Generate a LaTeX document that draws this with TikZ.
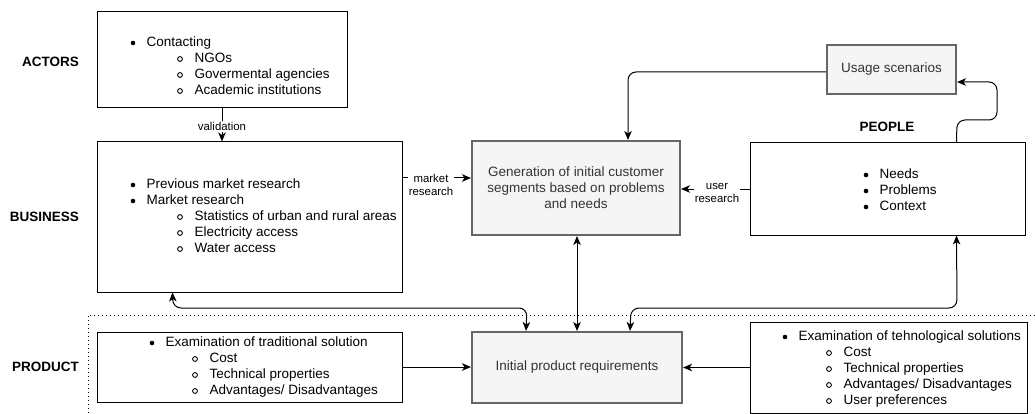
\documentclass[tikz,border=0pt]{standalone}
\usepackage{fontspec}
\setmainfont{Liberation Sans}
\usetikzlibrary{arrows.meta,calc}

\definecolor{boxgray}{HTML}{F5F5F5}
\definecolor{edgegray}{HTML}{666666}
\definecolor{txtgray}{HTML}{333333}

\tikzset{
  listbox/.style={draw=black, line width=1pt, fill=white, inner sep=0pt},
  stagebox/.style={draw=edgegray, line width=2pt, fill=boxgray, inner sep=0pt,
    text=txtgray, align=center, font=\fontsize{13.5}{16}\selectfont},
  lane/.style={inner sep=0pt, font=\bfseries\fontsize{13.5}{16}\selectfont},
  itemtext/.style={anchor=base west, inner sep=0pt, font=\fontsize{13.5}{16}\selectfont},
  tip/.tip={Stealth[length=9pt,width=7.5pt,inset=2.5pt]},
  flow/.style={line width=1pt, -tip, rounded corners=8pt},
  twoway/.style={line width=1pt, tip-tip, rounded corners=8pt},
  elabel/.style={fill=white, inner sep=1pt, align=center,
    font=\fontsize{11.4}{13.5}\selectfont},
  boundary/.style={line width=1pt, dash pattern=on 1pt off 3pt},
}

% first-level item: filled dot, then text (baseline half an x-height below the dot)
\newcommand\lvone[3]{%
  \fill (#1,#2) circle (2.3pt);
  \node[itemtext] at ($(#1,#2)+(13.5,3.5)$) {#3};}
% second-level item: hollow dot, then text
\newcommand\lvtwo[3]{%
  \draw[line width=0.9pt] (#1,#2) circle (2.4pt);
  \node[itemtext] at ($(#1,#2)+(14.5,3.5)$) {#3};}

\begin{document}
\begin{tikzpicture}[x=1pt,y=-1pt]
\useasboundingbox (0,0) rectangle (1035,414);

% product lane boundary
\draw[boundary] (1035,315) -- (88,315) -- (88,414);

% lane labels
\node[lane, anchor=east] (lactors) at (79,62) {ACTORS};
\node[lane, anchor=east] (lbusiness) at (79,217) {BUSINESS};
\node[lane, anchor=east] (lproduct) at (79,367) {PRODUCT};
\node[lane] (lpeople) at (887,127) {PEOPLE};

% boxes
\node[listbox, minimum width=250pt, minimum height=96pt] (actors) at (222,60) {};
\node[listbox, minimum width=305pt, minimum height=150pt] (business) at (249.5,217) {};
\node[stagebox, minimum width=208pt, minimum height=94pt] (gen) at (576,188)
  {Generation of initial customer\\segments based on problems\\and needs};
\node[stagebox, minimum width=129pt, minimum height=49pt] (usage) at (891.5,69.5)
  {Usage scenarios};
\node[listbox, minimum width=275pt, minimum height=92pt] (people) at (887.5,189) {};
\node[listbox, minimum width=305pt, minimum height=70pt] (trad) at (249.5,367) {};
\node[stagebox, minimum width=210pt, minimum height=71pt] (prodreq) at (577,367.5)
  {Initial product requirements};
\node[listbox, minimum width=277pt, minimum height=91pt] (tech) at (888.5,367.5) {};

% box contents
\lvone{133}{43}{Contacting}
\lvtwo{180}{59}{NGOs}
\lvtwo{180}{75}{Govermental agencies}
\lvtwo{180}{91}{Academic institutions}

\lvone{133}{185}{Previous market research}
\lvone{133}{201}{Market research}
\lvtwo{180}{217}{Statistics of urban and rural areas}
\lvtwo{180}{233}{Electricity access}
\lvtwo{180}{249}{Water access}

\lvone{866}{175}{Needs}
\lvone{866}{191}{Problems}
\lvone{866}{207}{Context}

\lvone{152}{343}{Examination of traditional solution}
\lvtwo{195}{359}{Cost}
\lvtwo{195}{375}{Technical properties}
\lvtwo{195}{391}{Advantages/ Disadvantages}

\lvone{785}{337}{Examination of tehnological solutions}
\lvtwo{829}{353}{Cost}
\lvtwo{829}{369}{Technical properties}
\lvtwo{829}{385}{Advantages/ Disadvantages}
\lvtwo{829}{401}{User preferences}

% anchor points on box sides
\coordinate (mrow) at (0,178);
\coordinate (urow) at (0,189);
\coordinate (gin) at ($(gen.north)+(52,0)$);
\coordinate (bout) at ($(business.south west)+(76,0)$);
\coordinate (pout) at ($(people.south west)+(207,0)$);
\coordinate (ptop) at ($(people.north west)+(207,0)$);
\coordinate (rin1) at ($(prodreq.north west)+(55,0)$);
\coordinate (rin3) at ($(prodreq.north west)+(159,0)$);
\coordinate (uin) at (usage.east |- 0,82);
\coordinate (uout) at (usage.west |- 0,72);

% connectors
\draw[flow] (actors.south) -- (actors.south |- business.north)
  node[elabel, pos=0.55] {validation};
\draw[flow] (business.east |- mrow) -- (gen.west |- mrow);
\node[elabel] (mlabel) at (431,185) {market\\research};
\draw[flow] (people.west |- urow) -- (gen.east |- urow);
\node[elabel] (ulabel) at (717,193) {user\\research};
\draw[flow] (uout) -| (gin);
\draw[flow] (ptop) -- (957,120) -- (997,120) -- (997,82) -- (uin);
\draw[twoway] ($(gen.south)+(1,0)$) -- (prodreq.north);
\draw[twoway] (bout) -- (173,308) -- (527,308) -- (rin1);
\draw[twoway] (pout) -- (957,308) -- (631,308) -- (rin3);
\draw[flow] (trad.east) -- (trad.east -| prodreq.west);
\draw[flow] (tech.west) -- (tech.west -| prodreq.east);
\end{tikzpicture}
\end{document}
